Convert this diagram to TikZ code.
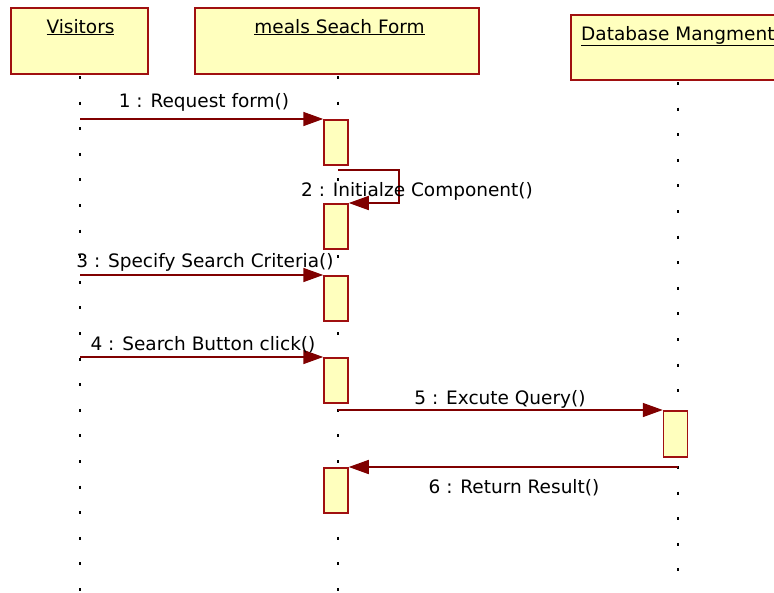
\documentclass[tikz,border=0pt]{standalone}
\usepackage{fontspec}
\setmainfont{DejaVu Sans}
\usetikzlibrary{arrows.meta}
\definecolor{boxfill}{RGB}{255,255,190}
\definecolor{boxline}{RGB}{160,16,16}
\definecolor{msg}{RGB}{128,0,0}
\begin{document}
\begin{tikzpicture}[x=1pt,y=-1pt,
  font=\fontsize{18.5}{22}\selectfont,
  head/.style={draw=boxline, fill=boxfill, line width=1.5pt, rectangle, anchor=north west, inner sep=0},
  act/.style={draw=boxline, fill=boxfill, line width=1.5pt, rectangle, minimum width=24pt, inner sep=0, anchor=north},
  life/.style={line width=1.5pt, dash pattern=on 3pt off 22.6pt},
  msgline/.style={draw=msg, line width=1.6pt, -{Triangle[length=20pt,width=14pt]}},
  lbl/.style={anchor=base, inner sep=0}]
\clip (0,0) rectangle (774,592);
\fill[white] (0,0) rectangle (774,592);
% heads
\node[head, minimum width=137pt, minimum height=66pt] (vis) at (10,7) {};
\node[head, minimum width=284pt, minimum height=66pt] (frm) at (194,7) {};
\node[head, minimum width=240pt, minimum height=65pt] (db) at (570,14) {};
\node[lbl] (tvis) at (80.5,33) {\underline{Visitors}};
\node[lbl] (tfrm) at (339.5,33) {\underline{meals Seach Form}};
\node[lbl, anchor=base west] (tdb) at (581,40) {\underline{Database Mangment}};
% lifelines
\coordinate (visTop) at (80,76);
\coordinate (visEnd) at (80,595);
\coordinate (frmTop) at (338,76);
\coordinate (frmEnd) at (338,595);
\coordinate (dbTop) at (678,82);
\coordinate (dbEnd) at (678,572);
\draw[life] (visTop) -- (visEnd);
\draw[life] (frmTop) -- (frmEnd);
\draw[life] (dbTop) -- (dbEnd);
% activations
\node[act, minimum height=45pt] (a1) at (336,119) {};
\node[act, minimum height=45pt] (a2) at (336,203) {};
\node[act, minimum height=45pt] (a3) at (336,275) {};
\node[act, minimum height=45pt] (a4) at (336,357) {};
\node[act, minimum height=46pt] (a5) at (675.5,410) {};
\node[act, minimum height=45pt] (a6) at (336,467) {};
% messages
\coordinate (m1s) at (80,119);
\coordinate (m2s) at (338,170);
\coordinate (m2a) at (399,170);
\coordinate (m2b) at (399,203);
\coordinate (m3s) at (80,275);
\coordinate (m4s) at (80,357);
\coordinate (m5s) at (338,410);
\coordinate (m6s) at (678,467);
\draw[msgline] (m1s) -- (a1.north west);
\draw[msgline] (m2s) -- (m2a) -- (m2b) -- (a2.north east);
\draw[msgline] (m3s) -- (a3.north west);
\draw[msgline] (m4s) -- (a4.north west);
\draw[msgline] (m5s) -- (a5.north west);
\draw[msgline] (m6s) -- (a6.north east);
% labels
\node[lbl] (l1) at (204,107) {1 : Request form()};
\node[lbl] (l2) at (417,196) {2 : Initialze Component()};
\node[lbl] (l3) at (205,267) {3 : Specify Search Criteria()};
\node[lbl] (l4) at (203,350) {4 : Search Button click()};
\node[lbl] (l5) at (500,404) {5 : Excute Query()};
\node[lbl] (l6) at (514,493) {6 : Return Result()};
\end{tikzpicture}
\end{document}
